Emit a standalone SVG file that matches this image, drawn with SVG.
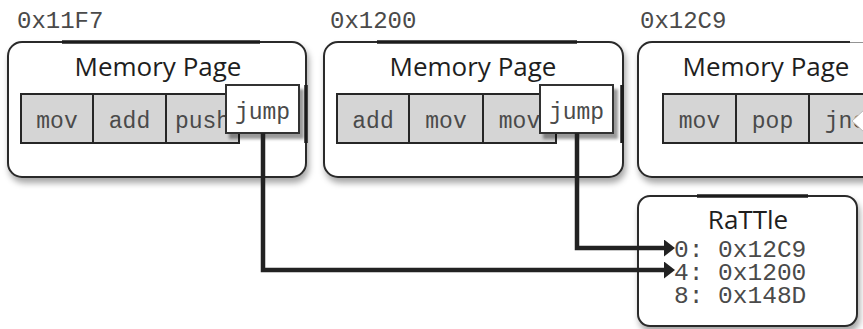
<svg xmlns="http://www.w3.org/2000/svg" width="863" height="329" viewBox="0 0 863 329">
  <defs>
    <style>
      .page{fill:#fff;stroke:#2a2a2a;stroke-width:2}
      .cell{fill:#d5d5d5;stroke:#262626;stroke-width:2}
      .jump{fill:#fff;stroke:#333;stroke-width:2}
      .edge{stroke:#1c1c1c;stroke-width:3.5;fill:none}
      .title{font-family:"Open Sans","Noto Sans",sans-serif;font-size:26px;fill:#1e1e1e;text-anchor:middle}
      .mono{font-family:"Liberation Mono","Courier New",monospace;fill:#4a4a4a}
      .addr{font-size:24px}
      .op{font-size:23px;text-anchor:middle}
      .row{font-size:24.5px}
      .wire{fill:none;stroke:#222;stroke-width:4.5}
    </style>
    <filter id="shadow" x="-10%" y="-10%" width="125%" height="135%">
      <feDropShadow dx="2" dy="5" stdDeviation="3" flood-color="#000" flood-opacity="0.35"/>
    </filter>
    <filter id="tabShadow" x="-15%" y="-15%" width="140%" height="145%">
      <feDropShadow dx="4" dy="5" stdDeviation="1.5" flood-color="#000" flood-opacity="0.4"/>
    </filter>
    <marker id="head" markerUnits="userSpaceOnUse" markerWidth="11" markerHeight="17" refX="0" refY="8.5" orient="auto">
      <path d="M0,0 L11,8.5 L0,17 z" fill="#222"/>
    </marker>
  </defs>

  <!-- page at 0x11F7 -->
  <g id="page-11F7">
    <text class="mono addr" x="17" y="28">0x11F7</text>
    <rect class="page" x="8" y="42" width="298" height="135" rx="14" filter="url(#shadow)"/>
    <line class="edge" x1="62" y1="42" x2="260" y2="42"/>
    <line class="edge" x1="306" y1="85" x2="306" y2="143"/>
    <text class="title" x="158" y="76">Memory Page</text>
    <rect class="cell" x="21" y="94" width="72" height="49"/>
    <rect class="cell" x="93" y="94" width="73" height="49"/>
    <rect class="cell" x="166" y="94" width="73" height="49"/>
    <text class="mono op" x="57" y="128">mov</text>
    <text class="mono op" x="129.5" y="128">add</text>
    <text class="mono op" x="202.5" y="128">push</text>
    <rect class="jump" x="226" y="85" width="73" height="48" filter="url(#tabShadow)"/>
    <text class="mono op" x="262.5" y="119">jump</text>
  </g>

  <!-- page at 0x1200 -->
  <g id="page-1200">
    <text class="mono addr" x="330" y="28">0x1200</text>
    <rect class="page" x="324" y="42" width="299" height="135" rx="14" filter="url(#shadow)"/>
    <line class="edge" x1="377" y1="42" x2="577" y2="42"/>
    <line class="edge" x1="622" y1="85" x2="622" y2="143"/>
    <text class="title" x="473" y="76">Memory Page</text>
    <rect class="cell" x="337" y="94" width="72" height="49"/>
    <rect class="cell" x="409" y="94" width="74" height="49"/>
    <rect class="cell" x="483" y="94" width="73" height="49"/>
    <text class="mono op" x="373" y="128">add</text>
    <text class="mono op" x="446" y="128">mov</text>
    <text class="mono op" x="519.5" y="128">mov</text>
    <rect class="jump" x="540" y="85" width="73" height="48" filter="url(#tabShadow)"/>
    <text class="mono op" x="576.5" y="119">jump</text>
  </g>

  <!-- page at 0x12C9 (runs off the right edge) -->
  <g id="page-12C9">
    <text class="mono addr" x="640" y="28">0x12C9</text>
    <path class="page" d="M870 42 H652 A14 14 0 0 0 638 56 V163 A14 14 0 0 0 652 177 H870" filter="url(#shadow)"/>
    <rect x="852" y="30" width="20" height="10" fill="#fff"/>
    <line x1="850" y1="41" x2="870" y2="41" stroke="#fff" stroke-width="3"/>
    <text class="title" x="766" y="76">Memory Page</text>
    <rect class="cell" x="663" y="94" width="73" height="49"/>
    <rect class="cell" x="736" y="94" width="73" height="49"/>
    <rect class="cell" x="809" y="94" width="73" height="49"/>
    <text class="mono op" x="699.5" y="128">mov</text>
    <text class="mono op" x="772.5" y="128">pop</text>
    <text class="mono op" x="845.5" y="128">jne</text>
    <polygon points="864,110 852,121 864,132" fill="#fff" stroke="#bbb" stroke-width="1"/>
  </g>

  <!-- RaTTle table -->
  <g id="rattle">
    <rect class="page" x="638" y="196" width="219" height="130" rx="12" filter="url(#shadow)"/>
    <line class="edge" x1="697" y1="196" x2="808" y2="196"/>
    <text class="title" x="748" y="229">RaTTle</text>
    <text class="mono row" x="674" y="257">0: 0x12C9</text>
    <text class="mono row" x="674" y="280">4: 0x1200</text>
    <text class="mono row" x="674" y="303">8: 0x148D</text>
  </g>

  <!-- jump targets resolved through the table -->
  <g id="connectors">
    <path class="wire" d="M577 133 V248 H664" marker-end="url(#head)"/>
    <path class="wire" d="M263 133 V270 H664" marker-end="url(#head)"/>
  </g>
</svg>
